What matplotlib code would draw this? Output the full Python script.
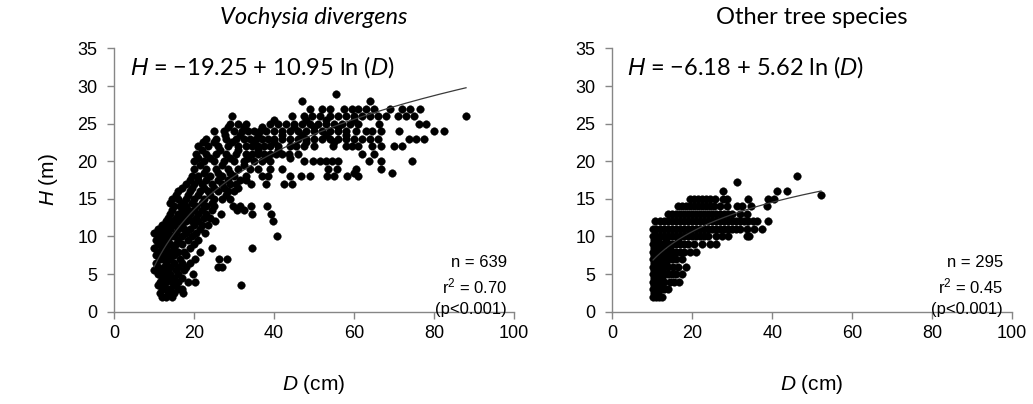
import numpy as np
import matplotlib
matplotlib.use('Agg')
import matplotlib.pyplot as plt

plt.rcParams['font.family'] = ['Liberation Sans', 'DejaVu Sans']
plt.rcParams['mathtext.fontset'] = 'custom'
plt.rcParams['mathtext.it'] = 'Liberation Sans:italic'
plt.rcParams['mathtext.rm'] = 'Liberation Sans'

# Vochysia divergens: tree height rows (m) and the diameters (cm) read in each row
vd_h_levels = [2.0, 2.5, 3.0, 3.5, 4.0, 4.5, 5.0, 5.5, 6.0, 6.5, 7.0, 7.5, 8.0, 8.5,
               9.0, 9.5, 10.0, 10.5, 11.0, 11.5, 12.0, 12.5, 13.0, 13.5, 14.0, 14.5,
               15.0, 15.5, 16.0, 16.5, 17.0, 17.5, 18.0, 18.5, 19.0, 19.5, 20.0, 20.5,
               21.0, 21.5, 22.0, 22.5, 23.0, 23.5, 24.0, 24.5, 25.0, 25.5, 26.0, 27.0,
               28.0, 29.0]
vd_d_rows = [
    [12, 13, 14.5],
    [11.5, 13.5, 15, 17.3],
    [12, 13, 14, 16, 17],
    [11, 12.5, 15, 31.8],
    [11.5, 13, 14.5, 16, 18.5, 20.2],
    [12, 13.5, 15, 17],
    [11, 12.5, 14, 16, 19.8],
    [10, 12, 13.5, 15.5, 17.5],
    [11, 12.5, 14, 16, 18.1, 26, 27],
    [10.5, 13, 15, 17, 19],
    [11.5, 12.5, 14, 16.5, 20.2, 26.2, 28.3],
    [10.5, 12, 13.5, 15, 18],
    [11, 12.5, 14, 16, 17.5, 21.4],
    [10, 12, 13, 15, 19, 24.4, 34.5],
    [11, 12.5, 14, 15.5, 17, 20],
    [10.5, 12, 13.5, 16, 18.5, 21],
    [11, 12.5, 14, 15, 17, 19.5, 40.7],
    [10, 11.5, 13, 15.5, 18, 20.5, 22.7],
    [11, 12.5, 14, 16, 17.5, 19, 21.5],
    [12, 13.5, 15, 17, 20, 22, 23.5],
    [13, 14.5, 16, 18, 19.5, 21, 25.2, 39.7],
    [13.5, 15.5, 17, 18.5, 20.5, 22.5, 24],
    [14, 16, 17.5, 19, 21, 23, 26.8, 34.5, 39.2],
    [14.5, 17, 18.5, 20, 22, 24.5, 30.8, 32.5],
    [15, 16.5, 18, 20.5, 23, 25, 29.7, 31.4, 34.3, 38.2],
    [14, 17, 19.5, 22, 24.5],
    [14.5, 16, 18, 20, 22.5, 25, 27, 29],
    [15.5, 18.5, 21, 24, 28],
    [16, 19, 21.5, 23.5, 26, 28.5, 30],
    [17, 19.5, 22.5, 25, 27.5, 31],
    [18, 20, 22, 24.5, 27, 29, 30.5, 34.3, 38, 42.6, 44.6],
    [19, 21, 23, 26, 28.5, 31.5, 33],
    [19.5, 21, 24, 27, 30, 33, 37, 38.5, 44, 46.7, 48.9, 53.2, 55.1, 58.2, 61],
    [22.5, 26, 29, 60, 69.4],
    [20, 23, 25.5, 28.5, 31, 34, 36, 39, 42, 53.5, 55.8, 60.5, 66.8],
    [21.5, 27, 32.5],
    [20, 22.5, 25, 27.5, 30, 32.5, 35, 37, 39, 47.4, 49.8, 51.5, 53, 54.4, 56, 63.8, 66.8, 74.6],
    [21, 24, 29, 33.5, 38, 44],
    [20.5, 23, 25.5, 28, 30.5, 33, 34.5, 36, 37.5, 39, 40.5, 42, 43.8, 46, 62, 65],
    [22, 26.5, 31, 36, 41],
    [21, 23.5, 26, 28.5, 31, 33, 34.5, 36, 37.5, 39, 41, 44, 45.5, 47.6, 50, 54.7, 58,
     59.5, 61, 64.4, 66.8, 70, 72.1],
    [22.3, 25, 29.5, 35, 40, 48, 55],
    [23, 25.5, 28, 30.5, 32.5, 34, 35.5, 37, 38.5, 40, 42, 44, 46, 48, 50, 52, 54, 56,
     58, 60, 62, 64, 66, 73.8, 75.5, 77.6],
    [27.7, 31.5, 36, 42, 47, 53, 58],
    [25, 27.5, 30, 32, 33.5, 35, 36.5, 38, 40, 42, 44, 46, 48, 50, 52, 54, 56, 58, 60.5,
     63, 64.5, 66.8, 71.3, 80, 82.5],
    [28.5, 32.5, 37, 45, 50, 56],
    [29, 31, 33, 39, 41, 42.9, 45, 47, 49, 51, 53, 55, 57, 59, 61, 66.3, 76.3, 78],
    [40, 48, 53, 60],
    [29.5, 44.5, 47.6, 49.5, 51.5, 54, 56, 58, 60, 62, 64, 66, 68, 71, 73, 75, 88],
    [49, 52, 54, 57.5, 59.5, 61, 63, 65, 69, 72, 74, 76.5],
    [47, 64],
    [55.4],
]

# Other tree species
ot_h_levels = [2.0, 2.5, 3.0, 3.5, 4.0, 4.5, 5.0, 5.5, 6.0, 6.5, 7.0, 7.5, 8.0, 8.5,
               9.0, 9.5, 10.0, 11.0, 12.0, 13.0, 14.0, 15.0, 15.5, 16.0, 17.2, 18.0]
ot_d_rows = [
    [10.2, 11, 11.8, 12.5],
    [10.5, 11.5],
    [10.2, 11, 12, 13, 14],
    [10.5, 11.5, 12.5],
    [10.2, 11, 12, 13, 14.5, 15.5, 16.7],
    [10.5, 11.5, 12.5],
    [10.2, 11, 12, 13, 14, 15, 16, 17.5],
    [10.5, 11.5, 12.5],
    [10.2, 11, 12, 13, 14, 15.2, 16.5, 18.5],
    [10.5, 11.5, 12.5, 13.5],
    [10.2, 11, 12, 13, 14, 15, 16, 17.5],
    [10.5, 11.5, 12.5, 13.5, 15],
    [10.2, 11, 12, 13, 14, 15, 16, 17, 18, 19.5, 21],
    [10.5, 11.5, 12.5, 14.5],
    [10.2, 11, 12, 13, 14, 15, 16, 17, 18, 19, 20.5, 22.5, 24.5, 26],
    [10.5, 11.5, 13.5, 16.5],
    [10.2, 11, 12, 13, 14, 15, 16, 17, 18, 19, 20, 21, 22, 23, 24, 26, 27.5, 29, 33.6, 34.2],
    [10.2, 11, 12, 13, 14, 15, 16, 17, 18, 19, 20, 21, 22, 23, 24, 25, 26, 27, 28, 29, 30,
     31, 32, 33.8, 35.4, 37.4],
    [10.8, 12, 13, 14, 15, 16, 17, 18, 19, 20, 21, 22, 23, 24, 25, 26, 27, 28, 29, 30, 31,
     32, 33, 34, 35.3, 36.1, 39],
    [14, 15, 16, 17, 18, 19, 20, 21, 22, 23, 24, 25, 26, 27, 28, 29, 30, 31.9, 33.6],
    [16.5, 17.5, 18.5, 19.5, 20.5, 21.5, 22.5, 23.5, 24.5, 25.5, 27, 28.6, 31.1, 32.5,
     34.8, 38.6],
    [19.4, 20.5, 21.5, 22.5, 23.5, 24.4, 25.7, 27.7, 28.8, 34, 39, 40.5],
    [52.2],
    [27.8, 41.1, 43.7],
    [31.1],
    [46.3],
]

# fitted curves H = a + b ln(D)
vd_a, vd_b = -19.25, 10.95
ot_a, ot_b = -6.18, 5.62


def flatten(levels, rows):
    d = np.concatenate([np.array(r, float) for r in rows])
    h = np.concatenate([np.full(len(r), lv) for lv, r in zip(levels, rows)])
    return d, h


vd_d, vd_h = flatten(vd_h_levels, vd_d_rows)
ot_d, ot_h = flatten(ot_h_levels, ot_d_rows)

fig = plt.figure(figsize=(10.33, 4.04), dpi=100)
ax1 = fig.add_axes([0.1104, 0.2285, 0.3872, 0.6515])
ax2 = fig.add_axes([0.5927, 0.2285, 0.3872, 0.6515])

grey = '#868686'
for ax, d, h, a, b in [(ax1, vd_d, vd_h, vd_a, vd_b), (ax2, ot_d, ot_h, ot_a, ot_b)]:
    ax.scatter(d, h, s=30, c='black', edgecolors='black', linewidths=0.3, zorder=3)
    xx = np.linspace(d.min(), d.max(), 200)
    ax.plot(xx, a + b * np.log(xx), color='#3a3a3a', lw=0.9, zorder=4)
    ax.set_xlim(0, 100)
    ax.set_ylim(0, 35)
    ax.set_xticks(range(0, 101, 20))
    ax.set_yticks(range(0, 36, 5))
    for s in ['top', 'right']:
        ax.spines[s].set_visible(False)
    for s in ['left', 'bottom']:
        ax.spines[s].set_color(grey)
        ax.spines[s].set_linewidth(1.0)
    ax.tick_params(colors=grey, labelcolor='black', labelsize=13, length=5, width=1.0)
    ax.tick_params(axis='y', pad=7)
    ax.tick_params(axis='x', pad=4.5)
    ax.patch.set_alpha(0)

eq_font = ['Lato', 'DejaVu Sans']
ax1.text(4, 32.5, r'$H$ = −19.25 + 10.95 ln ($D$)', family=eq_font, fontsize=17, va='center')
ax2.text(3.7, 32.5, r'$H$ = −6.18 + 5.62 ln ($D$)', family=eq_font, fontsize=17, va='center')

for ax, x, n, r2 in [(ax1, 98.3, '639', '0.70'), (ax2, 97.7, '295', '0.45')]:
    ax.text(x, 6.6, 'n = ' + n, ha='right', va='center', fontsize=12)
    ax.text(x, 3.4, 'r$^2$ = ' + r2, ha='right', va='center', fontsize=12)
    ax.text(x, 0.35, '(p<0.001)', ha='right', va='center', fontsize=12, clip_on=False, zorder=5)

fig.text(314 / 1033, 1 - 17 / 404, 'Vochysia divergens', family=eq_font, style='italic',
         fontsize=17, ha='center', va='center')
fig.text(812 / 1033, 1 - 17 / 404, 'Other tree species', family=eq_font,
         fontsize=17, ha='center', va='center')

fig.text(48 / 1033, 1 - 180 / 404, r'$H$ (m)', rotation=90, fontsize=15, ha='center', va='center')
fig.text(314 / 1033, 1 - 384 / 404, r'$D$ (cm)', fontsize=15, ha='center', va='center')
fig.text(812 / 1033, 1 - 384 / 404, r'$D$ (cm)', fontsize=15, ha='center', va='center')

fig.savefig('out.png', dpi=100)
